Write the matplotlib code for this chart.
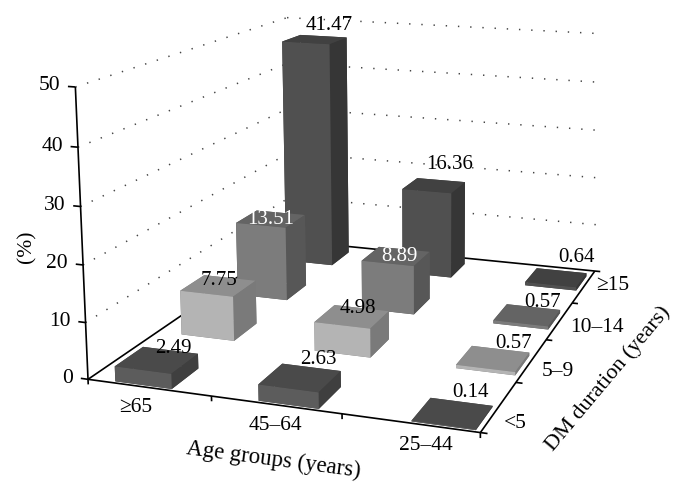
import numpy as np, matplotlib
matplotlib.use('Agg')
import matplotlib.pyplot as plt

plt.rcParams['font.family'] = ['Liberation Serif', 'DejaVu Serif']

# ---- data ----
age_groups = ['≥65', '45–64', '25–44']
durations = ['<5', '5–9', '10–14', '≥15']
z_ticks = [0, 10, 20, 30, 40, 50]
values_lt5 = [2.49, 2.63, 0.14]
values_5_9 = [7.75, 4.98, 0.57]
values_10_14 = [13.51, 8.89, 0.57]
values_ge15 = [41.47, 16.36, 0.64]
age_label = 'Age groups (years)'
dur_label = 'DM duration (years)'
val_label = '(%)'

series = [values_lt5, values_5_9, values_10_14, values_ge15]
# faces: front, top, right for each duration row
front = ['#5c5c5c', '#b4b4b4', '#7c7c7c', '#505050']
top = ['#4a4a4a', '#8e8e8e', '#646464', '#414141']
side = ['#3f3f3f', '#7a7a7a', '#575757', '#363636']
text_col = [['k', 'k', 'k'], ['k', 'k', 'k'], ['white', 'white', 'k'], ['k', 'k', 'k']]
label_shift = [[(17, -12), (18, -18), (18, -21)],
               [(1, -5), (6, -8), (20, -15)],
               [(0, 1), (3, 0), (15, -13)],
               [(14, -14), (16, -21), (20, -20)]]

# ---- camera: fit a projective view from the axes frame of the chart ----
W, H = 683, 492
frame_world = [(0,0,0),(3,0,0),(3,4,0),(0,4,0),(0,0,10),(0,0,20),(0,0,30),(0,0,40),(0,0,50),
               (0,4,50),(3,4,50),(3,4,40),(3,4,30),(3,4,20),(3,4,10)]
frame_pixel = [(88,378),(482,432),(597,272),(291,241),(84,322),(83,265),(81,207),(78,148),(75,88),
               (288,17),(601,33),(600,82),(595,130),(595,178),(595,225)]
rows = []
for (x, y, z), (u, v) in zip(frame_world, frame_pixel):
    z = z / 10
    rows.append([x, y, z, 1, 0, 0, 0, 0, -u*x, -u*y, -u*z, -u])
    rows.append([0, 0, 0, 0, x, y, z, 1, -v*x, -v*y, -v*z, -v])
P = np.linalg.svd(np.array(rows, float))[2][-1].reshape(3, 4)
if P[2, 3] < 0:
    P = -P
P[:, 2] /= 10

fig = plt.figure(figsize=(W/100, H/100), dpi=100)
ax = fig.add_axes([-0.2, -0.5, 1.4, 2.0], projection='3d')
ax.set_axis_off()
ax.computed_zorder = False
ax.apply_aspect()
T = ax.transData.get_affine().get_matrix()
D = np.array([[1, 0, 0], [0, -1, H], [0, 0, 1]], float)
Q = np.linalg.inv(T) @ D @ P
M = np.vstack([Q[0], Q[1], [0, 0, 0, -1], P[2]])
ax.get_proj = lambda: M

def pix(x, y, z):
    p = P @ np.array([x, y, z, 1.0])
    return p[0]/p[2], p[1]/p[2]

def label(s, xy, shift=(0, 0), **kw):
    u, v = xy
    fig.text((u+shift[0])/W, 1-(v+shift[1])/H, s, ha='center', va='center', **kw)

def bar_height(h):
    # the source's bars rise a little faster than its wall grid
    return h * (1.06 + 0.0018 * h)

# ---- walls ----
dot = dict(color='#444444', lw=1.1, ls=(0, (0.9, 7.1)), zorder=1)
for z in z_ticks[1:]:
    ax.plot([0, 0], [0, 4], [z, z], **dot)
    ax.plot([0, 3], [4, 4], [z, z], **dot)

# ---- axes frame ----
ln = dict(color='k', lw=1.2, zorder=2, solid_capstyle='butt')
ax.plot([0, 3], [0, 0], [0, 0], **ln)
ax.plot([0, 0], [0, 4], [0, 0], **ln)
ax.plot([0, 3], [4, 4], [0, 0], **ln)
ax.plot([3, 3], [0, 4], [0, 0], **ln)
ax.plot([0, 0], [0, 0], [0, 50], **ln)
for z in z_ticks:
    ax.plot([-0.06, 0], [0, 0], [z, z], **ln)
for i in range(len(age_groups) + 1):
    ax.plot([i, i], [0, 0], [-0.9, 0], **ln)
for j in range(len(durations) + 1):
    ax.plot([3, 3.05], [j, j], [0, 0], **ln)

# ---- bars ----
bx, bw, sx = 0.21, 0.46, 1.145
by, bd, sy = 0.03, 0.45, 1.11
order = 10
for j in reversed(range(len(durations))):
    for i in range(len(age_groups)):
        h = bar_height(series[j][i])
        ax.bar3d(bx + sx*i, by + sy*j, 0, bw, bd, h, shade=False,
                 color=[side[j], top[j], front[j], side[j], side[j], side[j]],
                 edgecolor='none', zorder=order)
        order += 1

# ---- text ----
fs = 15.5
for j in range(len(durations)):
    for i in range(len(age_groups)):
        xy = pix(bx + sx*i + bw/2, by + sy*j + bd/2, bar_height(series[j][i]))
        label(f'{series[j][i]:.2f}', xy, label_shift[j][i], fontsize=15,
              color=text_col[j][i], zorder=100)
for z in z_ticks:
    u, v = pix(0, 0, z)
    fig.text((u-15)/W, 1-(v-1)/H, str(z), ha='right', va='center', fontsize=fs)
for s, xy in zip(age_groups, [(136, 408), (275, 425), (426, 445)]):
    label(s, xy, fontsize=fs)
for s, xy in zip(durations, [(515, 423), (558, 371), (597, 328), (613, 285)]):
    label(s, xy, fontsize=fs)
label(age_label, (273, 460), fontsize=16.5, rotation=-7.5, rotation_mode='anchor')
label(dur_label, (608, 379), fontsize=16, rotation=50, rotation_mode='anchor')
label(val_label, (27, 247), fontsize=fs, rotation=90, rotation_mode='anchor')

fig.savefig('out.png', dpi=100)
